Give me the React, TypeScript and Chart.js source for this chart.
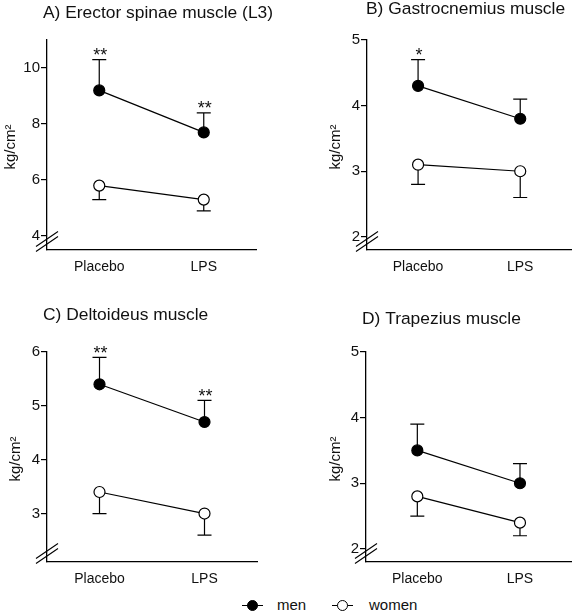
import React, { useEffect, useRef } from 'react';
import { Chart, registerables } from 'chart.js';

Chart.register(...registerables);

// ---------- data ----------
const categories = ['Placebo', 'LPS'];
const yAxisLabel = 'kg/cm²';
const seriesNames = ['men', 'women'];

const titleA = 'A) Erector spinae muscle (L3)';
const menA = [9.2, 7.7];
const menErrA = [1.1, 0.7];
const womenA = [5.8, 5.3];
const womenErrA = [0.5, 0.4];
const starsA = ['**', '**'];
const ticksA = [4, 6, 8, 10];
const rangeA = [3.5, 11];

const titleB = 'B) Gastrocnemius muscle';
const menB = [4.3, 3.8];
const menErrB = [0.4, 0.3];
const womenB = [3.1, 3.0];
const womenErrB = [0.3, 0.4];
const starsB = ['*', ''];
const ticksB = [2, 3, 4, 5];
const rangeB = [1.8, 5];

const titleC = 'C) Deltoideus muscle';
const menC = [5.4, 4.7];
const menErrC = [0.5, 0.4];
const womenC = [3.4, 3.0];
const womenErrC = [0.4, 0.4];
const starsC = ['**', '**'];
const ticksC = [3, 4, 5, 6];
const rangeC = [2.1, 6];

const titleD = 'D) Trapezius muscle';
const menD = [3.5, 3.0];
const menErrD = [0.4, 0.3];
const womenD = [2.8, 2.4];
const womenErrD = [0.3, 0.2];
const starsD = ['', ''];
const ticksD = [2, 3, 4, 5];
const rangeD = [1.8, 5];

// ---------- layout ----------
const FONT = '"Liberation Sans", Arial, Helvetica, sans-serif';
const INK = '#111';

type Panel = {
  title: string; men: number[]; menErr: number[]; women: number[]; womenErr: number[];
  stars: string[]; ticks: number[]; range: number[];
  left: number; top: number; width: number; height: number;
  area: { left: number; right: number; top: number; bottom: number };
  titleX: number; titleY: number; yLabelX: number;
};

const panels: Panel[] = [
  { title: titleA, men: menA, menErr: menErrA, women: womenA, womenErr: womenErrA, stars: starsA, ticks: ticksA, range: rangeA,
    left: 0, top: 0, width: 289, height: 290, area: { left: 47, right: 256, top: 40, bottom: 250 }, titleX: 43, titleY: 13, yLabelX: 11 },
  { title: titleB, men: menB, menErr: menErrB, women: womenB, womenErr: womenErrB, stars: starsB, ticks: ticksB, range: rangeB,
    left: 289, top: 0, width: 289, height: 290, area: { left: 78, right: 288, top: 40, bottom: 250 }, titleX: 77, titleY: 9, yLabelX: 47 },
  { title: titleC, men: menC, menErr: menErrC, women: womenC, womenErr: womenErrC, stars: starsC, ticks: ticksC, range: rangeC,
    left: 0, top: 290, width: 289, height: 300, area: { left: 47, right: 257, top: 62, bottom: 272 }, titleX: 43, titleY: 25, yLabelX: 16 },
  { title: titleD, men: menD, menErr: menErrD, women: womenD, womenErr: womenErrD, stars: starsD, ticks: ticksD, range: rangeD,
    left: 289, top: 290, width: 289, height: 300, area: { left: 77, right: 288, top: 62, bottom: 272 }, titleX: 73, titleY: 29, yLabelX: 47 },
];

function PanelChart({ p }: { p: Panel }) {
  const ref = useRef<HTMLCanvasElement>(null);
  useEffect(() => {
    if (!ref.current) return;
    const decor = {
      id: 'decor',
      beforeDatasetsDraw(chart: any) {
        const ctx = chart.ctx;
        const xs = chart.scales.x;
        const ys = chart.scales.y;
        ctx.save();
        ctx.strokeStyle = '#000';
        ctx.lineWidth = 1.2;
        categories.forEach((_, i) => {
          const x = xs.getPixelForValue(i);
          const pairs = [
            [p.men[i], p.men[i] + p.menErr[i]],
            [p.women[i], p.women[i] - p.womenErr[i]],
          ];
          pairs.forEach(([v, e]) => {
            const y0 = ys.getPixelForValue(v);
            const y1 = ys.getPixelForValue(e);
            ctx.beginPath();
            ctx.moveTo(x, y0);
            ctx.lineTo(x, y1);
            ctx.moveTo(x - 7, y1);
            ctx.lineTo(x + 7, y1);
            ctx.stroke();
          });
        });
        ctx.restore();
      },
      afterDraw(chart: any) {
        const ctx = chart.ctx;
        const xs = chart.scales.x;
        const ys = chart.scales.y;
        const a = chart.chartArea;
        ctx.save();
        ctx.fillStyle = INK;
        // significance stars
        ctx.font = `18px ${FONT}`;
        ctx.textAlign = 'center';
        ctx.textBaseline = 'alphabetic';
        categories.forEach((_, i) => {
          if (!p.stars[i]) return;
          const x = xs.getPixelForValue(i);
          const yc = ys.getPixelForValue(p.men[i] + p.menErr[i]);
          ctx.fillText(p.stars[i], x + 1, yc + 1.5);
        });
        // title
        ctx.font = `17.4px ${FONT}`;
        ctx.textAlign = 'left';
        ctx.textBaseline = 'middle';
        ctx.fillText(p.title, p.titleX, p.titleY);
        // y label
        ctx.save();
        ctx.translate(p.yLabelX, (a.top + a.bottom) / 2 + 2);
        ctx.rotate(-Math.PI / 2);
        ctx.font = `15px ${FONT}`;
        ctx.textAlign = 'center';
        ctx.textBaseline = 'middle';
        ctx.fillText(yAxisLabel, 0, 0);
        ctx.restore();
        // axis break marks
        ctx.strokeStyle = '#000';
        ctx.lineWidth = 1.1;
        [a.bottom - 11, a.bottom - 6].forEach((cy) => {
          ctx.beginPath();
          ctx.moveTo(a.left - 11, cy + 7.5);
          ctx.lineTo(a.left + 11, cy - 7.5);
          ctx.stroke();
        });
        ctx.restore();
      },
    };

    const chart = new Chart(ref.current, {
      type: 'line',
      data: {
        labels: categories,
        datasets: [
          {
            label: seriesNames[0], data: p.men, borderColor: '#000', borderWidth: 1.2,
            pointBackgroundColor: '#000', pointBorderColor: '#000', pointBorderWidth: 1.2,
            pointRadius: 5.5, pointHoverRadius: 5.5, tension: 0, fill: false,
          },
          {
            label: seriesNames[1], data: p.women, borderColor: '#000', borderWidth: 1.2,
            pointBackgroundColor: '#fff', pointBorderColor: '#000', pointBorderWidth: 1.2,
            pointRadius: 5.5, pointHoverRadius: 5.5, tension: 0, fill: false,
          },
        ],
      },
      options: {
        responsive: false,
        animation: false,
        events: [],
        layout: { padding: { top: p.area.top, right: p.width - p.area.right, left: 0, bottom: 0 } },
        plugins: { legend: { display: false }, tooltip: { enabled: false }, title: { display: false } },
        scales: {
          x: {
            type: 'category',
            offset: true,
            grid: { display: true, drawOnChartArea: false, drawTicks: false, color: '#000' },
            border: { display: true, color: '#000', width: 1.3 },
            ticks: { color: INK, font: { family: FONT, size: 14 }, padding: 9, maxRotation: 0 },
            afterFit: (s: any) => { s.height = p.height - p.area.bottom; },
          },
          y: {
            type: 'linear',
            min: p.range[0],
            max: p.range[1],
            grid: { display: true, drawOnChartArea: false, drawTicks: true, tickLength: 6, color: '#000', lineWidth: 1.2 },
            border: { display: true, color: '#000', width: 1.3 },
            ticks: { color: INK, font: { family: FONT, size: 15 }, padding: 1 },
            afterBuildTicks: (s: any) => { s.ticks = p.ticks.map((v) => ({ value: v })); },
            afterFit: (s: any) => { s.width = p.area.left; },
          },
        },
      },
      plugins: [decor],
    } as any);
    return () => chart.destroy();
  }, [p]);
  return (
    <canvas
      ref={ref}
      width={p.width}
      height={p.height}
      style={{ position: 'absolute', left: p.left, top: p.top, width: p.width, height: p.height }}
    />
  );
}

function LegendItem({ filled, lineLeft, label, textLeft }: { filled: boolean; lineLeft: number; label: string; textLeft: number }) {
  return (
    <>
      <div style={{ position: 'absolute', left: lineLeft, top: 604.5, width: 21, height: 1.3, background: '#000' }} />
      <div
        style={{
          position: 'absolute', left: lineLeft + 5, top: 599.5, width: 9, height: 9, borderRadius: '50%',
          border: '1.2px solid #000', background: filled ? '#000' : '#fff',
        }}
      />
      <div style={{ position: 'absolute', left: textLeft, top: 596, fontFamily: FONT, fontSize: 15, lineHeight: '18px', color: INK }}>
        {label}
      </div>
    </>
  );
}

export default function App() {
  return (
    <div style={{ position: 'fixed', left: 0, top: 0, width: 578, height: 613, background: '#fff', overflow: 'hidden' }}>
      {panels.map((p, i) => (
        <PanelChart key={i} p={p} />
      ))}
      <LegendItem filled={true} lineLeft={242} label={seriesNames[0]} textLeft={277} />
      <LegendItem filled={false} lineLeft={332} label={seriesNames[1]} textLeft={369} />
    </div>
  );
}
